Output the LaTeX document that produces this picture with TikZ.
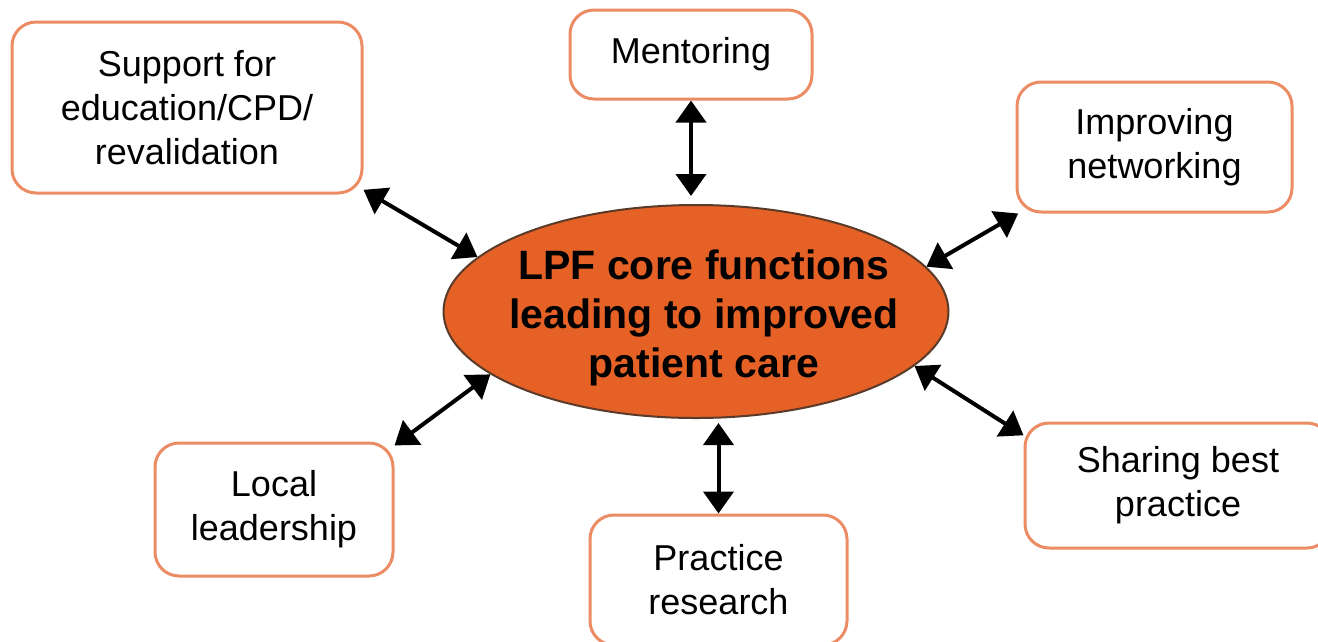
\documentclass[tikz,border=0pt]{standalone}
\usepackage{fontspec}
\setmainfont{Liberation Sans}
\usetikzlibrary{arrows.meta,shapes.geometric}
\definecolor{boxline}{HTML}{EB8C64}
\definecolor{corefill}{HTML}{E56126}
\definecolor{coreline}{HTML}{5A3A28}
\tikzset{
	func/.style={draw=boxline, line width=3pt, rounded corners=24pt, fill=white, align=center, inner sep=0pt, font=\fontsize{36}{44}\selectfont},
	link/.style={line width=4pt, {Triangle[length=22pt,width=30pt]}-{Triangle[length=22pt,width=30pt]}}
}

\begin{document}
\begin{tikzpicture}[x=1pt, y=-1pt]
			%%%%% START %%%%%
			\useasboundingbox (0, 0) rectangle (1318, 641);
			
			\node[ellipse, draw=coreline, line width=2pt, fill=corefill, minimum width=505pt, minimum height=213pt, inner sep=0pt] (core) at (696, 311.5) {};
			\node[align=center, font=\bfseries\fontsize{41}{49}\selectfont] (coretext) at (704, 318) {LPF core functions\\leading to improved\\patient care};
			
			\node[func, minimum width=350pt, minimum height=171pt] (sup) at (187, 107.5) {Support for\\education/CPD/\\revalidation};
			\node[func, minimum width=242pt, minimum height=89pt] (ment) at (691, 54.5) {Mentoring};
			\node[func, minimum width=275pt, minimum height=130pt] (netw) at (1154.5, 147) {Improving\\networking};
			\node[func, minimum width=238pt, minimum height=133pt] (lead) at (274, 509.5) {Local\\leadership};
			\node[func, minimum width=257pt, minimum height=130pt] (res) at (718.5, 580) {Practice\\research};
			\node[func, minimum width=306pt, minimum height=125pt] (share) at (1178, 485.5) {Sharing best\\practice};
			
			\draw[link] (sup.-25.4) -- (core.166);
			\draw[link] (ment.south) -- ([yshift=8pt]ment.south |- core.north);
			\draw[link] (netw.206) -- (core.11);
			\draw[link] (lead.28.3) -- (core.197);
			\draw[link] (res.north) -- ([yshift=-4pt]res.north |- core.south);
			\draw[link] (share.162.6) -- (core.-14);
			
			%%%%% END %%%%%
\end{tikzpicture}
\end{document}
